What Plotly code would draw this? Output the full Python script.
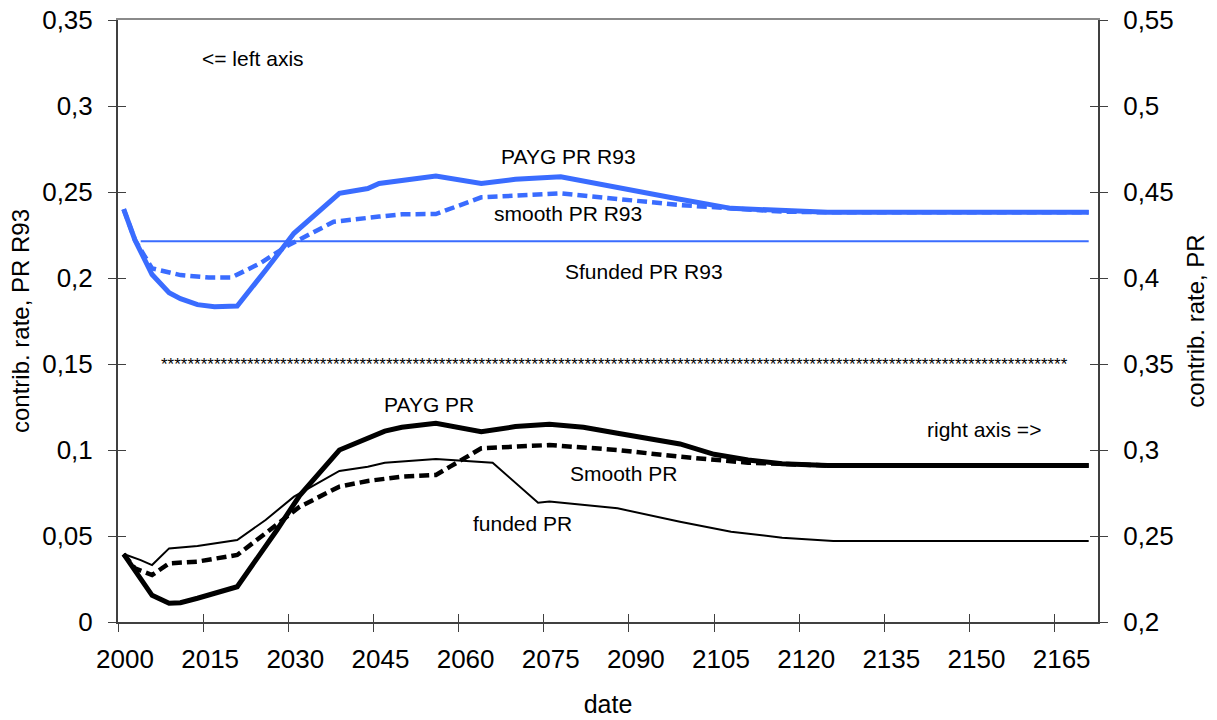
import plotly.graph_objects as go

# ---------------- data ----------------
# left axis series (blue)
payg_r93_years = [2001, 2003, 2006, 2009, 2011, 2014, 2017, 2021, 2026, 2031, 2039, 2044, 2046, 2050,
                  2056, 2064, 2070, 2078, 2087, 2099, 2108, 2117, 2125, 2171]
payg_r93_vals = [0.240, 0.222, 0.202, 0.1915, 0.188, 0.1845, 0.1833, 0.1837, 0.2045, 0.226, 0.2492, 0.252,
                 0.255, 0.257, 0.2593, 0.255, 0.2574, 0.2589, 0.2531, 0.2458, 0.2405, 0.239, 0.2382, 0.2382]

smooth_r93_years = [2001, 2003, 2004, 2006, 2011, 2016, 2020, 2025, 2030, 2038, 2046, 2050, 2056, 2064,
                    2078, 2087, 2099, 2117, 2125, 2171]
smooth_r93_vals = [0.240, 0.222, 0.2165, 0.2056, 0.2017, 0.2003, 0.2003, 0.2085, 0.219, 0.2327, 0.2357,
                   0.237, 0.2372, 0.2469, 0.2492, 0.2463, 0.2424, 0.2386, 0.2382, 0.2382]

sfunded_r93_years = [2004, 2171]
sfunded_r93_vals = [0.2213, 0.2213]

# right axis series (black)
payg_years = [2001, 2004, 2006, 2009, 2011, 2014, 2021, 2028, 2032, 2039, 2044, 2047, 2050, 2056, 2064,
              2070, 2076, 2082, 2088, 2094, 2099, 2105, 2111, 2117, 2125, 2171]
payg_vals = [0.2395, 0.2245, 0.2155, 0.2109, 0.2112, 0.2138, 0.2205, 0.2535, 0.2735, 0.300, 0.3068, 0.311,
             0.3132, 0.3155, 0.3106, 0.3136, 0.3149, 0.3132, 0.3097, 0.3065, 0.3035, 0.2975, 0.2942, 0.292,
             0.291, 0.291]

smooth_years = [2001, 2003, 2006, 2009, 2014, 2021, 2026, 2032, 2039, 2044, 2050, 2056, 2058.5, 2064,
                2076, 2088, 2099, 2111, 2125, 2171]
smooth_vals = [0.2395, 0.2312, 0.2273, 0.2341, 0.2351, 0.239, 0.2516, 0.267, 0.2787, 0.282, 0.2845,
               0.2855, 0.2903, 0.301, 0.3029, 0.300, 0.2961, 0.2926, 0.291, 0.291]

funded_years = [2001, 2004, 2006, 2009, 2014, 2021, 2026, 2031, 2039, 2044, 2047, 2056, 2066, 2074,
                2076, 2088, 2099, 2108, 2117, 2126, 2171]
funded_vals = [0.2395, 0.236, 0.2331, 0.2428, 0.2442, 0.2477, 0.2593, 0.2729, 0.2878, 0.2903, 0.2926,
               0.2948, 0.2926, 0.2694, 0.270, 0.2661, 0.2583, 0.2525, 0.249, 0.2471, 0.2471]

# axes
x_tick_vals = [2000, 2015, 2030, 2045, 2060, 2075, 2090, 2105, 2120, 2135, 2150, 2165]
x_tick_text = [str(v) for v in x_tick_vals]
left_tick_vals = [0, 0.05, 0.1, 0.15, 0.2, 0.25, 0.3, 0.35]
left_tick_text = ["0", "0,05", "0,1", "0,15", "0,2", "0,25", "0,3", "0,35"]
right_tick_vals = [0.2, 0.25, 0.3, 0.35, 0.4, 0.45, 0.5, 0.55]
right_tick_text = ["0,2", "0,25", "0,3", "0,35", "0,4", "0,45", "0,5", "0,55"]

X_RANGE = [2000, 2172.64]
LEFT_RANGE = [0, 0.35]
RIGHT_RANGE = [0.2, 0.55]

BLUE = "#3a6cff"
FONT = "Arial, Liberation Sans, sans-serif"
AXIS_COL = "#404040"

fig = go.Figure()

# blue (left axis)
fig.add_trace(go.Scatter(x=sfunded_r93_years, y=sfunded_r93_vals, mode="lines",
                         line=dict(color=BLUE, width=2), yaxis="y", name="Sfunded PR R93"))
fig.add_trace(go.Scatter(x=smooth_r93_years, y=smooth_r93_vals, mode="lines",
                         line=dict(color=BLUE, width=4.5, dash="10px,5px"), yaxis="y", name="smooth PR R93"))
fig.add_trace(go.Scatter(x=payg_r93_years, y=payg_r93_vals, mode="lines",
                         line=dict(color=BLUE, width=5), yaxis="y", name="PAYG PR R93"))

# black (right axis)
fig.add_trace(go.Scatter(x=funded_years, y=funded_vals, mode="lines",
                         line=dict(color="black", width=2), yaxis="y2", name="funded PR"))
fig.add_trace(go.Scatter(x=smooth_years, y=smooth_vals, mode="lines",
                         line=dict(color="black", width=4.5, dash="10px,5px"), yaxis="y2", name="Smooth PR"))
fig.add_trace(go.Scatter(x=payg_years, y=payg_vals, mode="lines",
                         line=dict(color="black", width=5), yaxis="y2", name="PAYG PR"))

# dummy traces to register overlay axes (cross ticks, top border)
fig.add_trace(go.Scatter(x=[None], y=[None], xaxis="x2", yaxis="y", showlegend=False, hoverinfo="skip"))
fig.add_trace(go.Scatter(x=[None], y=[None], xaxis="x3", yaxis="y", showlegend=False, hoverinfo="skip"))
fig.add_trace(go.Scatter(x=[None], y=[None], xaxis="x", yaxis="y3", showlegend=False, hoverinfo="skip"))
fig.add_trace(go.Scatter(x=[None], y=[None], xaxis="x", yaxis="y4", showlegend=False, hoverinfo="skip"))

tick_font = dict(family=FONT, size=26, color="black")
ann_font = dict(family=FONT, size=21, color="black")

fig.update_layout(
    width=1217, height=720,
    margin=dict(l=118, r=119, t=20, b=98, pad=0, autoexpand=False),
    plot_bgcolor="white", paper_bgcolor="white",
    showlegend=False,
    font=dict(family=FONT, color="black"),
    xaxis=dict(range=X_RANGE, tickmode="array", tickvals=x_tick_vals, ticktext=x_tick_text,
               ticks="outside", ticklen=8, tickwidth=1, tickcolor=AXIS_COL,
               showline=True, linecolor=AXIS_COL, linewidth=2, showgrid=False, zeroline=False,
               tickfont=tick_font, ticklabelshift=7, ticklabelstandoff=5, automargin=False,
               title=dict(text="date", font=dict(family=FONT, size=25), standoff=22),
               anchor="y"),
    xaxis2=dict(range=X_RANGE, overlaying="x", side="bottom", anchor="y", tickmode="array",
                tickvals=x_tick_vals, ticks="inside", ticklen=8, tickwidth=1, tickcolor=AXIS_COL,
                showticklabels=False, showline=False, showgrid=False, zeroline=False, automargin=False),
    xaxis3=dict(range=X_RANGE, overlaying="x", side="top", anchor="y", ticks="",
                showticklabels=False, showline=True, linecolor="#8a8a8a", linewidth=1.5,
                showgrid=False, zeroline=False, automargin=False),
    yaxis=dict(range=LEFT_RANGE, tickmode="array", tickvals=left_tick_vals, ticktext=left_tick_text,
               ticks="outside", ticklen=8, tickwidth=1, tickcolor=AXIS_COL,
               showline=True, linecolor=AXIS_COL, linewidth=2, showgrid=False, zeroline=False,
               tickfont=tick_font, ticklabelstandoff=10, automargin=False,
               title=dict(text="contrib. rate, PR R93", font=dict(family=FONT, size=24), standoff=6)),
    yaxis2=dict(range=RIGHT_RANGE, overlaying="y", side="right", anchor="x", tickmode="array",
                tickvals=right_tick_vals, ticktext=right_tick_text,
                ticks="outside", ticklen=8, tickwidth=1, tickcolor=AXIS_COL,
                showline=True, linecolor=AXIS_COL, linewidth=2, showgrid=False, zeroline=False,
                tickfont=tick_font, ticklabelstandoff=10, automargin=False,
                title=dict(text="contrib. rate, PR", font=dict(family=FONT, size=24), standoff=14)),
    yaxis3=dict(range=LEFT_RANGE, overlaying="y", side="left", anchor="x", tickmode="array",
                tickvals=left_tick_vals, ticks="inside", ticklen=8, tickwidth=1, tickcolor=AXIS_COL,
                showticklabels=False, showline=False, showgrid=False, zeroline=False, automargin=False),
    yaxis4=dict(range=RIGHT_RANGE, overlaying="y", side="right", anchor="x", tickmode="array",
                tickvals=right_tick_vals, ticks="inside", ticklen=8, tickwidth=1, tickcolor=AXIS_COL,
                showticklabels=False, showline=False, showgrid=False, zeroline=False, automargin=False),
)

# text labels inside the plot
labels = [
    ("<= left axis", 2023.8, 0.3275, "y"),
    ("PAYG PR R93", 2079.4, 0.2709, "y"),
    ("smooth PR R93", 2079.2, 0.2375, "y"),
    ("Sfunded PR R93", 2092.7, 0.2038, "y"),
    ("PAYG PR", 2054.8, 0.3262, "y2"),
    ("Smooth PR", 2089.0, 0.2866, "y2"),
    ("funded PR", 2071.3, 0.2570, "y2"),
    ("right axis =>", 2152.5, 0.3122, "y2"),
]
for txt, xv, yv, yr in labels:
    fig.add_annotation(text=txt, x=xv, y=yv, xref="x", yref=yr, showarrow=False,
                       xanchor="center", yanchor="middle", font=ann_font)

# separator row of asterisks
fig.add_annotation(text="*" * 137, x=2087.4, y=0.1495, xref="x", yref="y", showarrow=False,
                   xanchor="center", yanchor="middle", font=dict(family=FONT, size=17, color="black"))

fig.write_html("out.html")
